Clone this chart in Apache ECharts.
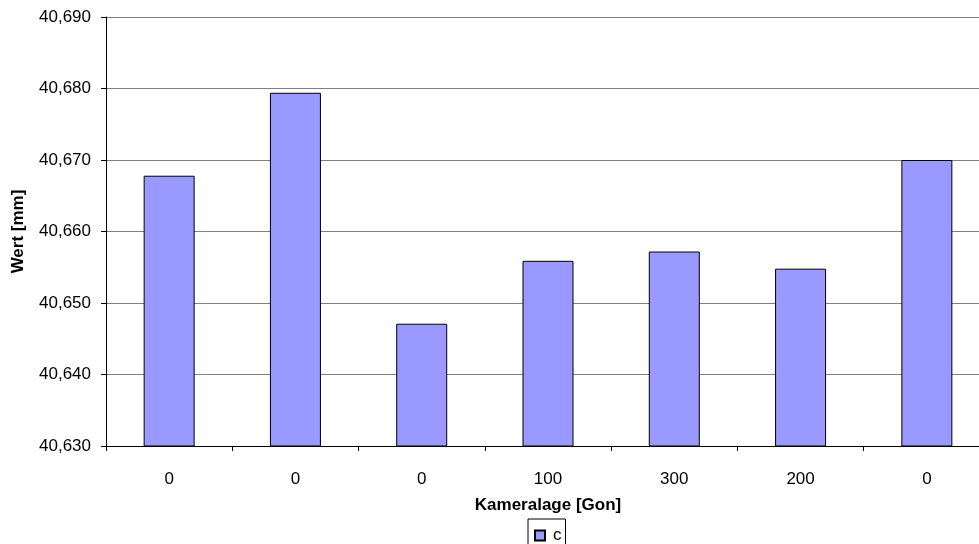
<!DOCTYPE html>
<html>
<head>
<meta charset="utf-8">
<script src="https://cdn.jsdelivr.net/npm/echarts@6/dist/echarts.min.js"></script>
<style>
  html, body { margin: 0; padding: 0; background: #fff; }
  #chart { width: 979px; height: 544px; }
</style>
</head>
<body>
<div id="chart"></div>
<script>
// Camera position (gon) per measurement and measured value c (mm)
const categories = ['0', '0', '0', '100', '300', '200', '0'];
const valuesC = [40.6678, 40.6794, 40.6471, 40.6559, 40.6572, 40.6548, 40.6700];
const yMin = 40.63;
const yMax = 40.69;
const yStep = 0.01;

const font = 'Liberation Sans, Arial, sans-serif';
const fmt = v => v.toFixed(3).replace('.', ',');

const chart = echarts.init(document.getElementById('chart'));
chart.setOption({
  animation: false,
  backgroundColor: '#ffffff',
  textStyle: { fontFamily: font },
  grid: { left: 106, right: -11, top: 17, bottom: 98, containLabel: false, outerBoundsMode: 'none' },
  legend: {
    data: ['c'],
    left: 528,
    top: 519,
    orient: 'horizontal',
    borderColor: '#000',
    borderWidth: 1,
    padding: [8, 4, 6, 6],
    itemWidth: 10,
    itemHeight: 10,
    itemGap: 4,
    icon: 'rect',
    textStyle: { fontFamily: font, fontSize: 17, color: '#000', padding: [0, 0, 0, 3] }
  },
  xAxis: {
    type: 'category',
    data: categories,
    name: 'Kameralage [Gon]',
    nameLocation: 'middle',
    nameGap: 51,
    nameMoveOverlap: false,
    nameTextStyle: { fontFamily: font, fontSize: 17, fontWeight: 'bold', color: '#000' },
    axisLine: { lineStyle: { color: '#000', width: 1 } },
    axisTick: { show: true, length: 5, inside: false, lineStyle: { color: '#000' } },
    axisLabel: { color: '#000', fontSize: 17, fontFamily: font, margin: 25 },
    splitLine: { show: false }
  },
  yAxis: {
    type: 'value',
    min: yMin,
    max: yMax,
    interval: yStep,
    name: 'Wert [mm]',
    nameLocation: 'middle',
    nameRotate: 90,
    nameGap: 79,
    nameMoveOverlap: false,
    nameTextStyle: { fontFamily: font, fontSize: 17, fontWeight: 'bold', color: '#000' },
    axisLine: { show: true, lineStyle: { color: '#000', width: 1 } },
    axisTick: { show: true, length: 5, lineStyle: { color: '#000' } },
    axisLabel: { color: '#000', fontSize: 17, fontFamily: font, margin: 15, formatter: fmt },
    splitLine: { show: true, lineStyle: { color: '#808080', width: 1 } }
  },
  series: [{
    name: 'c',
    type: 'bar',
    data: valuesC,
    barWidth: 51,
    itemStyle: { color: '#9999ff', borderColor: '#000', borderWidth: 1 }
  }]
});
</script>
</body>
</html>
